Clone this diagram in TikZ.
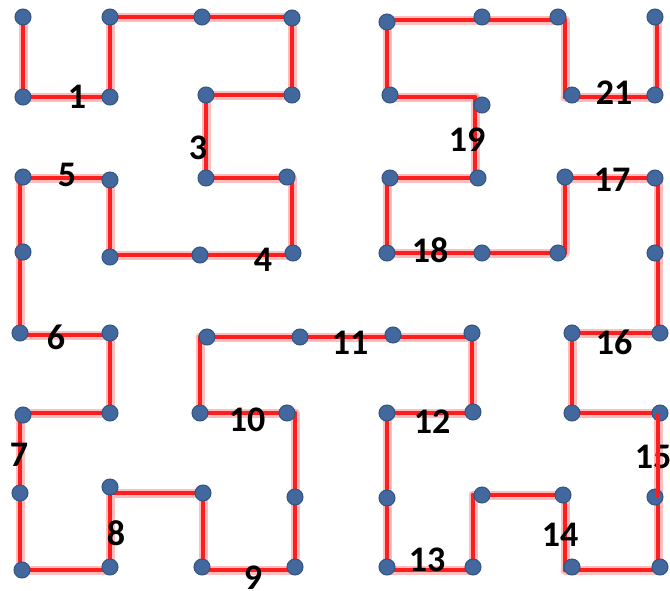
\documentclass[tikz,border=0pt]{standalone}
\usepackage{fontspec}
\setmainfont{Carlito}
\definecolor{dotfill}{RGB}{66,104,158}
\definecolor{dotedge}{RGB}{50,84,130}
\definecolor{pathred}{RGB}{255,30,30}
\definecolor{glow}{RGB}{255,190,190}
\begin{document}
\begin{tikzpicture}[x=1pt,y=-1pt,
  pt/.style={circle,fill=dotfill,draw=dotedge,line width=1pt,minimum width=15pt,minimum height=16pt,inner sep=0pt},
  lbl/.style={inner sep=0pt,font=\fontsize{36}{36}\selectfont\bfseries},
  glowline/.style={glow,line width=9pt},
  redline/.style={pathred,line width=4.5pt}]
\useasboundingbox (0,0) rectangle (670,590);
\fill[white] (0,0) rectangle (670,590);
% path vertices (axis-aligned)
\foreach \n/\x/\y in {1/23/17,2/23/97,3/110/97,4/110/17,5/202/17,6/292/17,7/292/95,8/206/95,
  9/206/178,10/292/178,11/292/255,12/200/255,13/110/255,14/110/178,15/20/178,16/20/252,
  17/20/335,18/110/335,19/110/413,20/20/413,21/20/493,22/20/570,23/110/570,24/110/493,
  25/203/493,26/203/570,27/295/570,28/295/497,29/295/413,30/200/413,31/200/337,32/300/337,
  33/393/337,34/472/337,35/472/413,36/387/413,37/387/498,38/387/570,39/473/570,40/473/495,
  41/565/495,42/565/570,43/658/570,44/658/497,45/658/413,46/572/413,47/572/333,48/658/333,
  49/658/253,50/658/178,51/565/178,52/565/253,53/482/253,54/387/253,55/387/178,56/475/178,
  57/475/97,58/387/97,59/387/20,60/482/20,61/565/20,62/565/97,63/657/97,64/657/17}
  {\coordinate (c\n) at (\x,\y);}
\foreach \style in {glowline,redline}{
  \foreach \a [evaluate=\a as \b using int(\a+1)] in {1,...,63}{
    \draw[\style,line cap=round] (c\a) -- (c\b);
  }
}
% dots
\foreach \n/\x/\y in {1/23/17,2/23/97,3/110/97,4/110/17,5/202/17,6/292/18,7/292/95,8/206/95,
  9/206/178,10/287/177,11/293/253,12/200/255,13/110/257,14/110/180,15/23/177,16/23/252,
  17/20/333,18/110/333,19/110/413,20/23/415,21/20/493,22/22/570,23/110/567,24/110/487,
  25/203/493,26/202/567,27/295/567,28/295/497,29/287/413,30/200/413,31/207/337,32/300/337,
  33/393/335,34/472/333,35/473/412,36/387/413,37/387/498,38/387/567,39/473/567,40/482/495,
  41/563/495,42/572/567,43/660/567,44/655/497,45/660/413,46/572/413,47/572/333,48/660/333,
  49/655/253,50/655/178,51/565/177,52/558/253,53/482/253,54/387/253,55/390/178,56/478/178,
  57/482/105,58/390/95,59/387/22,60/482/17,61/558/17,62/572/95,63/655/95,64/655/17}
  {\node[pt] (d\n) at (\x,\y) {};}
\node[lbl] (l1) at (77,97) {1};
\node[lbl] (l3) at (198,148) {3};
\node[lbl] (l4) at (263,260) {4};
\node[lbl] (l5) at (67,175) {5};
\node[lbl] (l6) at (56,337) {6};
\node[lbl] (l7) at (19,455) {7};
\node[lbl] (l8) at (116,533) {8};
\node[lbl] (l9) at (253,578) {9};
\node[lbl] (l10) at (247,420) {10};
\node[lbl] (l11) at (350,343) {11};
\node[lbl] (l12) at (432,422) {12};
\node[lbl] (l13) at (427,560) {13};
\node[lbl] (l14) at (560,535) {14};
\node[lbl] (l15) at (653,457) {15};
\node[lbl] (l16) at (614,342) {16};
\node[lbl] (l17) at (612,180) {17};
\node[lbl] (l18) at (430,250) {18};
\node[lbl] (l19) at (467,140) {19};
\node[lbl] (l21) at (614,93) {21};
\draw[redline] (c44) -- (c45);
\end{tikzpicture}
\end{document}
